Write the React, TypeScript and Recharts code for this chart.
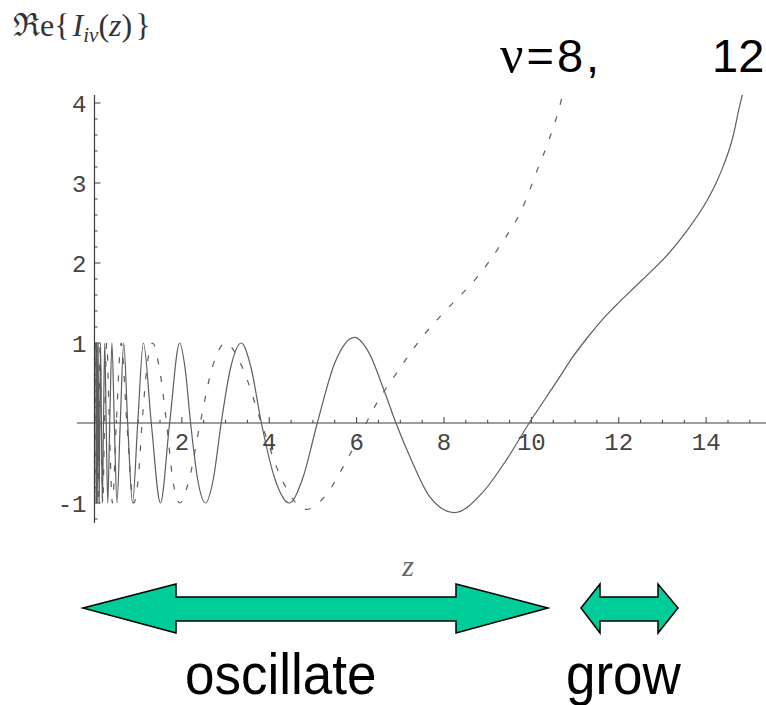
import { LineChart, Line, XAxis, YAxis, ReferenceLine, ReferenceDot } from 'recharts';

// Re{I_iν(z)}, ν = 12 (solid)
const nu12Z = [
  0.03, 0.034, 0.038, 0.043, 0.049, 0.056, 0.063, 0.072, 0.082, 0.094,
  0.107, 0.122, 0.14, 0.159, 0.18, 0.206, 0.235, 0.268, 0.305, 0.349,
  0.4, 0.454, 0.515, 0.59, 0.67, 0.76, 0.87, 0.99, 1.12, 1.3,
  1.51, 1.72, 1.95, 2.07, 2.2, 2.36, 2.54, 2.72, 2.9, 3.12,
  3.36, 3.58, 3.82, 4.13, 4.46, 4.76, 5.1, 5.5, 5.95, 6.29,
  6.6, 6.9, 7.25, 7.67, 8.24, 8.88, 9.43, 9.95, 10.57, 10.94,
  11.33, 11.62, 11.9, 12.54, 13.16, 13.57, 14.03, 14.2, 14.37, 14.6,
  14.8, 14.84,
];
const nu12Re = [
  1, 0, -1, 0, 1, 0, -1, 0, 1, 0,
  -1, 0, 1, 0, -1, 0, 1, 0, -1, 0,
  1, 0, -1, 0, 1, 0, -1, 0, 1, 0,
  -1, 0, 1, 0.7, 0, -0.7, -1, -0.7, 0, 0.7,
  1, 0.7, 0, -0.7, -1, -0.7, 0, 0.75, 1.07, 0.87,
  0.45, 0, -0.46, -0.92, -1.12, -0.87, -0.46, 0, 0.51, 0.82,
  1.1, 1.29, 1.45, 1.79, 2.13, 2.41, 2.79, 2.97, 3.18, 3.55,
  4.04, 4.12,
];

// ν = 8 (dashed)
const nu8Z = [
  0.027, 0.033, 0.04, 0.049, 0.059, 0.072, 0.087, 0.105, 0.128, 0.156,
  0.19, 0.23, 0.28, 0.34, 0.41, 0.5, 0.61, 0.74, 0.9, 1.0,
  1.09, 1.2, 1.33, 1.48, 1.65, 1.79, 1.95, 2.17, 2.42, 2.7,
  3.0, 3.38, 3.82, 4.3, 4.85, 5.3, 5.72, 6.22, 6.41, 6.91,
  7.48, 8.08, 8.74, 9.31, 9.79, 10.14, 10.41, 10.69, 10.72,
];
const nu8Re = [
  1, 0, -1, 0, 1, 0, -1, 0, 1, 0,
  -1, 0, 1, 0, -1, 0, 1, 0, -1, -0.7,
  0, 0.7, 1, 0.7, 0, -0.7, -1, -0.7, 0, 0.7,
  1, 0.7, 0, -0.72, -1.08, -0.9, -0.52, 0, 0.2, 0.62,
  1.06, 1.43, 1.81, 2.24, 2.68, 3.17, 3.55, 4.05, 4.12,
];

const xMajorTicks = [2, 4, 6, 8, 10, 12, 14];
const xMinorTicks = [
  0.5, 1, 1.5, 2.5, 3, 3.5, 4.5, 5, 5.5, 6.5, 7, 7.5, 8.5, 9, 9.5,
  10.5, 11, 11.5, 12.5, 13, 13.5, 14.5, 15,
];
const yMajorTicks = [-1, 1, 2, 3, 4];
const yMinorTicks = [
  -1.2, -0.8, -0.6, -0.4, -0.2, 0.2, 0.4, 0.6, 0.8, 1.2, 1.4, 1.6, 1.8,
  2.2, 2.4, 2.6, 2.8, 3.2, 3.4, 3.6, 3.8,
];

const nu12Data = nu12Z.map((z, i) => ({ z, re: nu12Re[i] }));
const nu8Data = nu8Z.map((z, i) => ({ z, re: nu8Re[i] }));

const W = 766;
const H = 705;
const AXIS = '#3c3c3c';
const CURVE = '#5e5e5e';
const tickFont = { fontFamily: '"Liberation Mono", "Courier New", monospace', fontSize: 24, fill: '#444' };
const SERIF = '"Liberation Serif", "Times New Roman", serif';
const SANS = '"Liberation Sans", Arial, sans-serif';
const ARROW_FILL = '#00CC99';

export default function App() {
  return (
    <div style={{ position: 'absolute', left: 0, top: 0, width: W, height: H, background: '#fff', overflow: 'hidden' }}>
      <LineChart width={W} height={H} margin={{ top: 95, right: 0, bottom: 182, left: 77 }}>
        <XAxis dataKey="z" type="number" domain={[-0.4, 15.37]} allowDataOverflow hide />
        <YAxis type="number" domain={[-1.25, 4.1]} allowDataOverflow hide />

        <ReferenceLine y={0} stroke={AXIS} strokeWidth={1.2} />
        <ReferenceLine x={0} stroke={AXIS} strokeWidth={1.2} />
        {xMajorTicks.map((t) => (
          <ReferenceLine key={'xM' + t} segment={[{ x: t, y: 0 }, { x: t, y: 0.075 }]} stroke={AXIS} />
        ))}
        {xMinorTicks.map((t) => (
          <ReferenceLine key={'xm' + t} segment={[{ x: t, y: 0 }, { x: t, y: 0.04 }]} stroke={AXIS} />
        ))}
        {yMajorTicks.map((t) => (
          <ReferenceLine key={'yM' + t} segment={[{ x: 0, y: t }, { x: 0.14, y: t }]} stroke={AXIS} />
        ))}
        {yMinorTicks.map((t) => (
          <ReferenceLine key={'ym' + t} segment={[{ x: 0, y: t }, { x: 0.07, y: t }]} stroke={AXIS} />
        ))}

        <Line
          data={nu8Data}
          dataKey="re"
          type="monotone"
          stroke={CURVE}
          strokeWidth={1.2}
          strokeDasharray="6 12"
          dot={false}
          isAnimationActive={false}
        />
        <Line
          data={nu12Data}
          dataKey="re"
          type="monotone"
          stroke={CURVE}
          strokeWidth={1.2}
          dot={false}
          isAnimationActive={false}
        />

        {xMajorTicks.map((t) => (
          <ReferenceDot
            key={'xl' + t}
            x={t}
            y={0}
            r={0}
            fill="none"
            stroke="none"
            label={{ value: String(t), position: 'bottom', offset: 10, ...tickFont }}
          />
        ))}
        {yMajorTicks.map((t) => (
          <ReferenceDot
            key={'yl' + t}
            x={0}
            y={t}
            r={0}
            fill="none"
            stroke="none"
            label={{ value: String(t), position: 'left', offset: 8, ...tickFont }}
          />
        ))}
      </LineChart>

      <svg width={W} height={H} style={{ position: 'absolute', left: 0, top: 0, pointerEvents: 'none' }}>
        <text x={13} y={36} fontFamily={SERIF} fontSize={32} fill="#333">
          {'ℜe{'}
          <tspan fontStyle="italic" dx={3}>I</tspan>
          <tspan fontStyle="italic" fontSize={21} dy={6}>iν</tspan>
          <tspan dy={-6}>(</tspan>
          <tspan fontStyle="italic">z</tspan>
          <tspan>)</tspan>
          <tspan dx={3}>{'}'}</tspan>
        </text>
        <text x={408} y={576} textAnchor="middle" fontFamily={SERIF} fontStyle="italic" fontSize={30} fill="#666">
          z
        </text>

        <text x={500} y={72} fontFamily={SANS} fontSize={47} letterSpacing={3} fill="#000">
          <tspan fontFamily={SERIF} fontSize={52}>ν</tspan>=8,
        </text>
        <text x={712} y={72} fontFamily={SANS} fontSize={47} fill="#000">
          12
        </text>

        <polygon
          points="83,608 176,584 176,597 456,597 456,584 548,608 456,633 456,621 176,621 176,633"
          fill={ARROW_FILL}
          stroke="#000"
          strokeWidth={1.5}
          strokeLinejoin="miter"
        />
        <polygon
          points="581,608 600,584 600,597 658,597 658,584 678,608 658,633 658,621 600,621 600,633"
          fill={ARROW_FILL}
          stroke="#000"
          strokeWidth={1.5}
          strokeLinejoin="miter"
        />

        <g transform="translate(185,694) scale(1,1.08)">
          <text x={0} y={0} fontFamily={SANS} fontSize={53} fill="#000">
            oscillate
          </text>
        </g>
        <g transform="translate(566,694) scale(1,1.08)">
          <text x={0} y={0} fontFamily={SANS} fontSize={53} fill="#000">
            grow
          </text>
        </g>
      </svg>
    </div>
  );
}
